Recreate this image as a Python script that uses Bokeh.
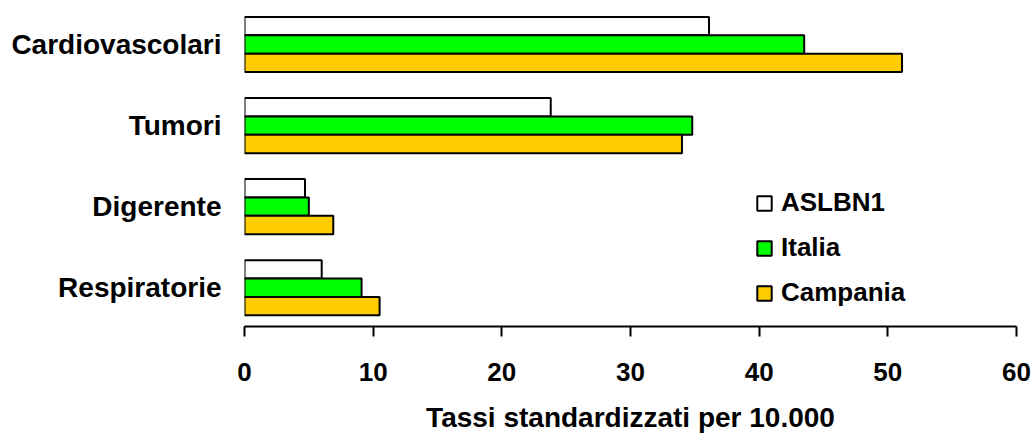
from bokeh.plotting import figure
from bokeh.models import ColumnDataSource, Range1d, FixedTicker, Legend, LegendItem
from bokeh.transform import dodge
from bokeh.embed import file_html
from bokeh.resources import INLINE

# ---- data ----
categories = ["Cardiovascolari", "Tumori", "Digerente", "Respiratorie"]
series = ["ASLBN1", "Italia", "Campania"]
aslbn1 = [36.1, 23.8, 4.7, 6.0]
italia = [43.5, 34.8, 5.0, 9.1]
campania = [51.1, 34.0, 6.9, 10.5]
x_ticks = [0, 10, 20, 30, 40, 50, 60]
x_title = "Tassi standardizzati per 10.000"

# ---- styling ----
colors = ["#FFFFFF", "#00FF00", "#FFCC00"]
FONT = "Liberation Sans"
BAR_H = 0.227

n = len(categories)
pos = [n - i for i in range(n)]
src = ColumnDataSource(dict(y=pos, cat=categories,
                            ASLBN1=aslbn1, Italia=italia, Campania=campania))

p = figure(frame_width=772, frame_height=318,
           output_backend="svg", toolbar_location=None,
           x_range=Range1d(0, 60), y_range=Range1d(0.522, 4.444),
           min_border_left=244, min_border_right=16,
           min_border_top=8, min_border_bottom=107)

offsets = [BAR_H, 0.0, -BAR_H]
renderers = []
for s, c, off in zip(series, colors, offsets):
    r = p.hbar(y=dodge("y", off, range=p.y_range), left=0, right=s,
               height=BAR_H, fill_color=c, line_color="black", line_width=2,
               source=src)
    renderers.append(r)

# axes
p.xgrid.visible = False
p.ygrid.visible = False
p.outline_line_color = None

xa = p.xaxis[0]
xa.ticker = FixedTicker(ticks=x_ticks)
xa.axis_line_width = 2
xa.axis_line_color = "black"
xa.major_tick_line_width = 2
xa.major_tick_line_color = "black"
xa.major_tick_out = 10
xa.major_tick_in = 0
xa.minor_tick_line_color = None
xa.major_label_text_font = FONT
xa.major_label_text_font_size = "26px"
xa.major_label_text_font_style = "bold"
xa.major_label_text_color = "black"
xa.major_label_standoff = 26
xa.axis_label = x_title
xa.axis_label_text_font = FONT
xa.axis_label_text_font_size = "28px"
xa.axis_label_text_font_style = "bold"
xa.axis_label_text_color = "black"
xa.axis_label_standoff = 18

ya = p.yaxis[0]
ya.ticker = FixedTicker(ticks=pos)
ya.major_label_overrides = {k: c for k, c in zip(pos, categories)}
ya.axis_line_color = None
ya.major_tick_line_color = None
ya.minor_tick_line_color = None
ya.major_label_text_font = FONT
ya.major_label_text_font_size = "28px"
ya.major_label_text_font_style = "bold"
ya.major_label_text_color = "black"
ya.major_label_standoff = 17

legend = Legend(items=[LegendItem(label=s, renderers=[r]) for s, r in zip(series, renderers)],
                location=(511, 18), orientation="vertical",
                glyph_width=18, glyph_height=18, label_height=30,
                label_standoff=8, spacing=14, padding=0, margin=0,
                label_text_font=FONT, label_text_font_size="26px",
                label_text_font_style="bold", label_text_color="black",
                border_line_color=None, background_fill_alpha=0)
p.add_layout(legend, "center")

open("out.html", "w").write(file_html(p, INLINE))
